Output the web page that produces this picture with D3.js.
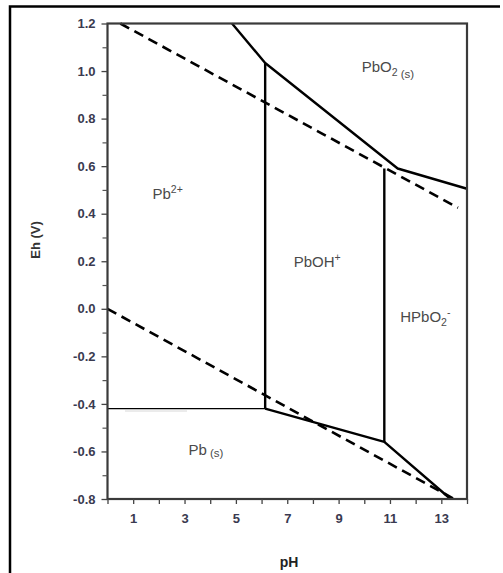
<!DOCTYPE html>
<html>
<head>
<meta charset="utf-8">
<script src="https://cdn.jsdelivr.net/npm/d3@7"></script>
<style>
  body { margin: 0; background: #fff; }
  text { font-family: "Liberation Sans", Arial, sans-serif; }
</style>
</head>
<body>
<script>
const width = 503;
const height = 573;

// pH / Eh axis values
const phTicks = d3.range(0, 15);
const phLabels = [1, 3, 5, 7, 9, 11, 13];
const ehMajor = [-0.8, -0.6, -0.4, -0.2, 0.0, 0.2, 0.4, 0.6, 0.8, 1.0, 1.2];
const ehMinor = [-0.7, -0.5, -0.3, -0.1, 0.1, 0.3, 0.5, 0.7, 0.9, 1.1];

// water stability lines (dashed)
const oxygenLine = [[0.5, 1.2], [13.65, 0.425]];
const hydrogenLine = [[0, 0.0], [13.5, -0.8]];

// Pb species boundaries
const pbo2Boundary = [[4.85, 1.2], [6.14, 1.034], [11.3, 0.59], [14, 0.505]];
const pbMetalBoundary = [[6.14, -0.42], [10.78, -0.56], [13.36, -0.8]];
const pb2Boundary = [[0, -0.42], [6.14, -0.42]];
const verticalBounds = [
  [[6.14, -0.42], [6.14, 1.034]],
  [[10.78, -0.56], [10.78, 0.59]],
];

const regionLabels = [
  { ph: 9.9, eh: 0.995, parts: [["PbO", ""], ["2", "sub"], [" (s)", "small"]] },
  { ph: 1.75, eh: 0.46, parts: [["Pb", ""], ["2+", "sup"]] },
  { ph: 7.25, eh: 0.175, parts: [["PbOH", ""], ["+", "sup"]] },
  { ph: 11.4, eh: -0.055, parts: [["HPbO", ""], ["2", "sub"], ["-", "supsub"]] },
  { ph: 3.15, eh: -0.617, parts: [["Pb", ""], [" (s)", "small"]] },
];

const x = d3.scaleLinear().domain([0, 14]).range([107.5, 467]);
const y = d3.scaleLinear().domain([-0.8, 1.2]).range([499, 23.5]);

const svg = d3
  .select("body")
  .append("svg")
  .attr("width", width)
  .attr("height", height);

// outer frame
svg
  .append("path")
  .attr("d", "M10,573 V6.5 H500")
  .attr("fill", "none")
  .attr("stroke", "#000")
  .attr("stroke-width", 2.5);

const line = d3
  .line()
  .x((d) => x(d[0]))
  .y((d) => y(d[1]));

// faint scan artefact under the Pb line
svg
  .append("line")
  .attr("x1", 125)
  .attr("x2", 187)
  .attr("y1", 411)
  .attr("y2", 411)
  .attr("stroke", "#d8d8d8")
  .attr("stroke-width", 1);

// dashed water lines
svg
  .selectAll("path.water")
  .data([oxygenLine, hydrogenLine])
  .join("path")
  .attr("class", "water")
  .attr("d", line)
  .attr("fill", "none")
  .attr("stroke", "#000")
  .attr("stroke-width", 2.6)
  .attr("stroke-dasharray", "10,6");

// solid boundaries
svg
  .selectAll("path.bound")
  .data([pbo2Boundary, pbMetalBoundary, ...verticalBounds])
  .join("path")
  .attr("class", "bound")
  .attr("d", line)
  .attr("fill", "none")
  .attr("stroke", "#000")
  .attr("stroke-width", 2.4)
  .attr("stroke-linejoin", "round");

svg
  .append("path")
  .attr("d", line(pb2Boundary))
  .attr("fill", "none")
  .attr("stroke", "#000")
  .attr("stroke-width", 1.3);

// plot frame
svg
  .append("rect")
  .attr("x", x(0))
  .attr("y", y(1.2))
  .attr("width", x(14) - x(0))
  .attr("height", y(-0.8) - y(1.2))
  .attr("fill", "none")
  .attr("stroke", "#3a3a3a")
  .attr("stroke-width", 2.2);

// x axis
const xAxis = d3
  .axisBottom(x)
  .tickValues(phTicks)
  .tickSize(5)
  .tickFormat((d) => (phLabels.includes(d) ? d : ""));

svg
  .append("g")
  .attr("transform", `translate(0,${y(-0.8)})`)
  .call(xAxis)
  .call((g) => g.select(".domain").remove())
  .call((g) =>
    g.selectAll(".tick line").attr("stroke", "#444").attr("stroke-width", 1.3)
  )
  .call((g) =>
    g
      .selectAll(".tick text")
      .attr("y", 15)
      .attr("fill", "#3a3a50")
      .attr("font-size", 13)
      .attr("font-weight", "bold")
      .attr("font-family", "Liberation Sans, Arial, sans-serif")
  );

// y axis
const ehFormat = (d) => d3.format(".1f")(d).replace("\u2212", "-");

svg
  .append("g")
  .attr("transform", `translate(${x(0)},0)`)
  .call(d3.axisLeft(y).tickValues(ehMinor).tickSize(5).tickFormat(""))
  .call((g) => g.select(".domain").remove())
  .call((g) => g.selectAll(".tick line").attr("stroke", "#555").attr("stroke-width", 1.2));

svg
  .append("g")
  .attr("transform", `translate(${x(0)},0)`)
  .call(d3.axisLeft(y).tickValues(ehMajor).tickSize(6).tickFormat(ehFormat))
  .call((g) => g.select(".domain").remove())
  .call((g) => g.selectAll(".tick line").attr("stroke", "#444").attr("stroke-width", 1.3))
  .call((g) =>
    g
      .selectAll(".tick text")
      .attr("x", -12)
      .attr("fill", "#3a3a50")
      .attr("font-size", 13)
      .attr("font-weight", "bold")
      .attr("font-family", "Liberation Sans, Arial, sans-serif")
  );

// axis titles
svg
  .append("text")
  .attr("x", 289)
  .attr("y", 567)
  .attr("text-anchor", "middle")
  .attr("font-size", 14)
  .attr("font-weight", "bold")
  .attr("fill", "#222")
  .text("pH");

svg
  .append("text")
  .attr("transform", "translate(40,240) rotate(-90)")
  .attr("text-anchor", "middle")
  .attr("font-size", 13)
  .attr("font-weight", "bold")
  .attr("fill", "#333")
  .text("Eh (V)");

// region labels
const label = svg
  .selectAll("text.region")
  .data(regionLabels)
  .join("text")
  .attr("class", "region")
  .attr("x", (d) => x(d.ph))
  .attr("y", (d) => y(d.eh))
  .attr("font-size", 15)
  .attr("fill", "#4a4a4a");

label.each(function (d) {
  const t = d3.select(this);
  d.parts.forEach(([str, kind]) => {
    const span = t.append("tspan").text(str);
    if (kind === "sub") span.attr("font-size", 10.5).attr("dy", 4);
    if (kind === "sup") span.attr("font-size", 10.5).attr("dy", -6);
    if (kind === "supsub") span.attr("font-size", 10.5).attr("dy", -10);
    if (kind === "small") span.attr("font-size", 11.5).attr("dy", 2);
  });
});
</script>
</body>
</html>
